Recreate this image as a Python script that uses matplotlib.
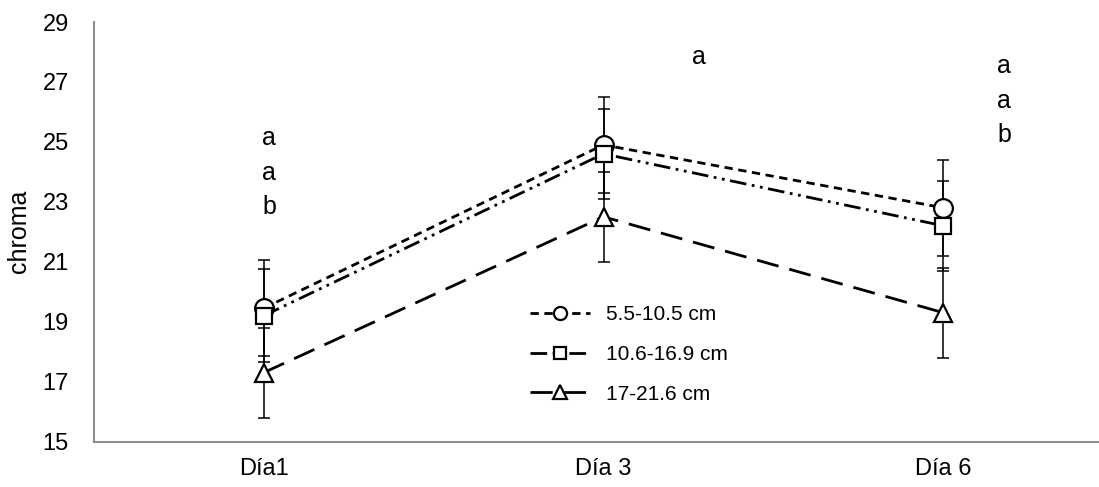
import matplotlib.pyplot as plt
import numpy as np

plt.rcParams['font.family'] = ['Liberation Sans', 'DejaVu Sans']

# chroma per day and size class
days = ['Día1', 'Día 3', 'Día 6']
labels = ['5.5-10.5 cm', '10.6-16.9 cm', '17-21.6 cm']
small = [19.45, 24.9, 22.8]
small_err = [1.6, 1.6, 1.6]
medium = [19.2, 24.6, 22.2]
medium_err = [1.55, 1.5, 1.5]
large = [17.3, 22.5, 19.3]
large_err = [1.5, 1.5, 1.5]

# significance letters per day
letters = [['a', 'a', 'b'], ['a'], ['a', 'a', 'b']]

fig = plt.figure(figsize=(10.99, 4.87), dpi=100)
ax = fig.add_axes([94 / 1099, 1 - 441.5 / 487, 1019 / 1099, 419.5 / 487])

x = np.arange(len(days))
series = [
    (small, small_err, 'o', (0, (3, 2))),
    (medium, medium_err, 's', (0, (6, 2, 1, 2, 1, 2))),
    (large, large_err, '^', (0, (8, 4))),
]
for (vals, err, mk, ls), lab in zip(series, labels):
    ax.errorbar(x, vals, yerr=err, fmt='none', ecolor='black', elinewidth=1.1,
                capsize=4.5, capthick=1.1, zorder=2)
    ax.plot(x, vals, color='black', linestyle=ls, linewidth=2, marker=mk,
            markersize=13.5 if mk != 's' else 11.5, markerfacecolor='white',
            markeredgecolor='black', markeredgewidth=1.6, label=lab, zorder=3)

# letters above each day
letter_x = [0.015, 1.28, 2.18]
letter_top = [24.9, 27.6, 27.3]
for lx, top, group in zip(letter_x, letter_top, letters):
    for i, s in enumerate(group):
        ax.text(lx, top - i * 1.16, s, ha='center', va='baseline', fontsize=18)

ax.set_xlim(-0.5, 2.5)
ax.set_ylim(15, 29)
ax.set_yticks(np.arange(15, 30, 2))
ax.set_xticks(x)
ax.set_xticklabels(days)
ax.tick_params(axis='both', length=0, labelsize=17)
ax.tick_params(axis='y', pad=18)
ax.tick_params(axis='x', pad=12)
for side in ['top', 'right']:
    ax.spines[side].set_visible(False)
for side in ['left', 'bottom']:
    ax.spines[side].set_color('#8c8c8c')
    ax.spines[side].set_linewidth(1.5)

ax.set_ylabel('chroma', fontsize=18)
ax.yaxis.set_label_coords(-0.062, 0.5)

ax.legend(loc='upper left', bbox_to_anchor=(530 / 1099, 1 - 305 / 487),
          bbox_transform=fig.transFigure, frameon=False, fontsize=15,
          handlelength=2.9, handletextpad=0.75, labelspacing=1.0,
          borderpad=0, borderaxespad=0, markerscale=0.7)

fig.savefig('out.png', dpi=100)
